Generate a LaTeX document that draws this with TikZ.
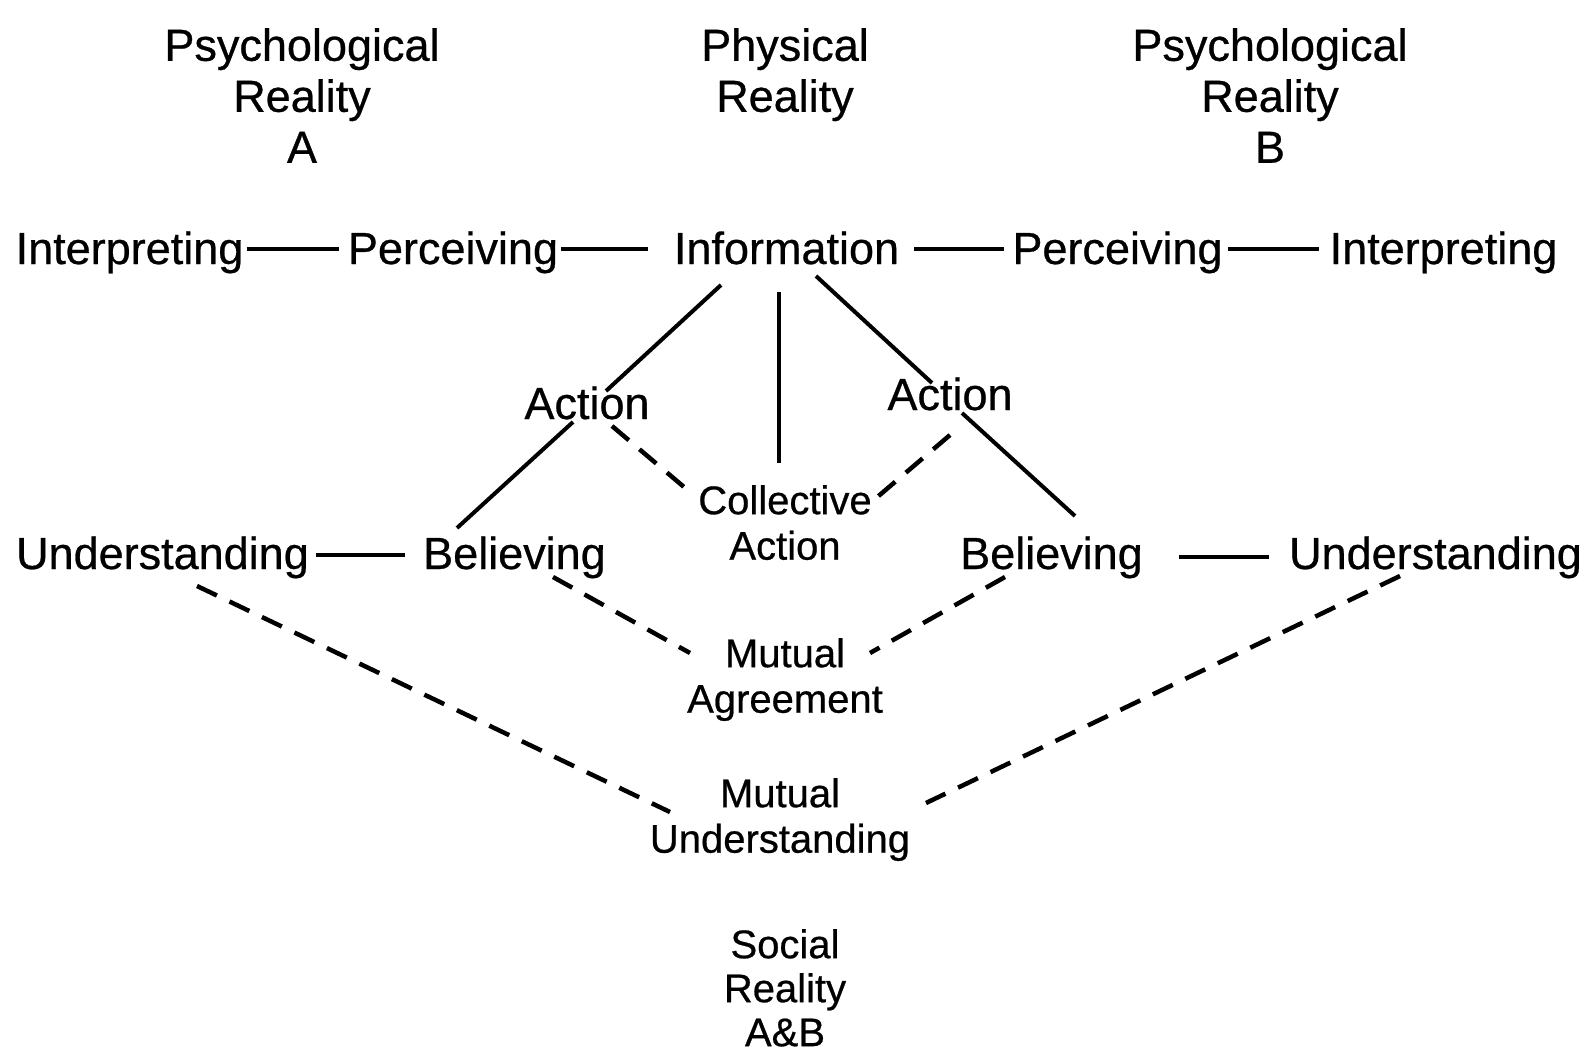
\documentclass[tikz,border=0pt]{standalone}
\usepackage{fontspec}
\setmainfont[FakeBold=0.6]{Liberation Sans}
\begin{document}
\begin{tikzpicture}[x=1pt,y=-1pt,
  big/.style={font=\fontsize{45}{51}\selectfont, inner sep=0pt, align=center},
  small/.style={font=\fontsize{40}{45.5}\selectfont, inner sep=0pt, align=center},
  link/.style={line width=4pt},
  dlink/.style={line width=4.5pt, dash pattern=on 22pt off 14pt},
]
\useasboundingbox (0,0) rectangle (1593,1052);

% headings
\node[big, anchor=north] (psyA) at (302,28) {Psychological\\Reality\\A};
\node[big, anchor=north] (phys) at (785,28) {Physical\\Reality};
\node[big, anchor=north] (psyB) at (1270,28) {Psychological\\Reality\\B};

% top row
\node[big, anchor=base] (intL) at (129.5,264) {Interpreting};
\node[big, anchor=base] (perL) at (453,264) {Perceiving};
\node[big, anchor=base] (info) at (786.5,264) {Information};
\node[big, anchor=base] (perR) at (1117.5,264) {Perceiving};
\node[big, anchor=base] (intR) at (1443.5,264) {Interpreting};

% actions
\node[big, anchor=base] (actL) at (587,419) {Action};
\node[big, anchor=base] (actR) at (950,410) {Action};
\node[small, anchor=north] (coll) at (785,485) {Collective\\Action};

% lower row
\node[big, anchor=base] (undL) at (162.5,569) {Understanding};
\node[big, anchor=base] (belL) at (514.5,569) {Believing};
\node[big, anchor=base] (belR) at (1051.5,569) {Believing};
\node[big, anchor=base] (undR) at (1435.5,569) {Understanding};

% mutual outcomes
\node[small, anchor=north] (magr) at (785,638) {Mutual\\Agreement};
\node[small, anchor=north] (mund) at (780,778) {Mutual\\Understanding};
\node[small, anchor=north, font=\fontsize{40}{44}\selectfont] (soc) at (785,929) {Social\\Reality\\A\&B};

% solid connectors
\draw[link] ([shift={(3,-15)}]intL.base east) -- ([shift={(-9,-15)}]perL.base west);
\draw[link] ([shift={(3,-15)}]perL.base east) -- ([shift={(-26,-15)}]info.base west);
\draw[link] ([shift={(15,-15)}]info.base east) -- ([shift={(-8,-15)}]perR.base west);
\draw[link] ([shift={(5,-15)}]perR.base east) -- ([shift={(-10,-15)}]intR.base west);
\draw[link] ([shift={(7,-14)}]undL.base east) -- ([shift={(-18,-14)}]belL.base west);
\draw[link] ([shift={(36,-12)}]belR.base east) -- ([shift={(-20,-12)}]undR.base west);

\draw[link] ([shift={(-65.5,21)}]info.base) -- ([shift={(19,-28)}]actL.base);
\draw[link] ([shift={(-14,3)}]actL.base) -- ([shift={(-57.5,-41)}]belL.base);
\draw[link] ([shift={(-7.5,28)}]info.base) -- ([shift={(-6,-22)}]coll.north);
\draw[link] ([shift={(29.5,12)}]info.base) -- ([shift={(-18,-27)}]actR.base);
\draw[link] ([shift={(12,3)}]actR.base) -- ([shift={(23.5,-53)}]belR.base);

% dashed connectors
\draw[dlink] ([shift={(25,7)}]actL.base) -- ([shift={(-101,2)}]coll.north);
\draw[dlink] ([shift={(0,25)}]actR.base) -- ([shift={(90,14)}]coll.north);
\draw[dlink] ([shift={(38.5,8)}]belL.base) -- ([shift={(-95,15)}]magr.north);
\draw[dlink] ([shift={(-46.5,8)}]belR.base) -- ([shift={(85,15)}]magr.north);
\draw[dlink] ([shift={(34.5,17)}]undL.base) -- ([shift={(-110,34)}]mund.north);
\draw[dlink] ([shift={(-35.5,7)}]undR.base) -- ([shift={(146,25)}]mund.north);
\end{tikzpicture}
\end{document}
